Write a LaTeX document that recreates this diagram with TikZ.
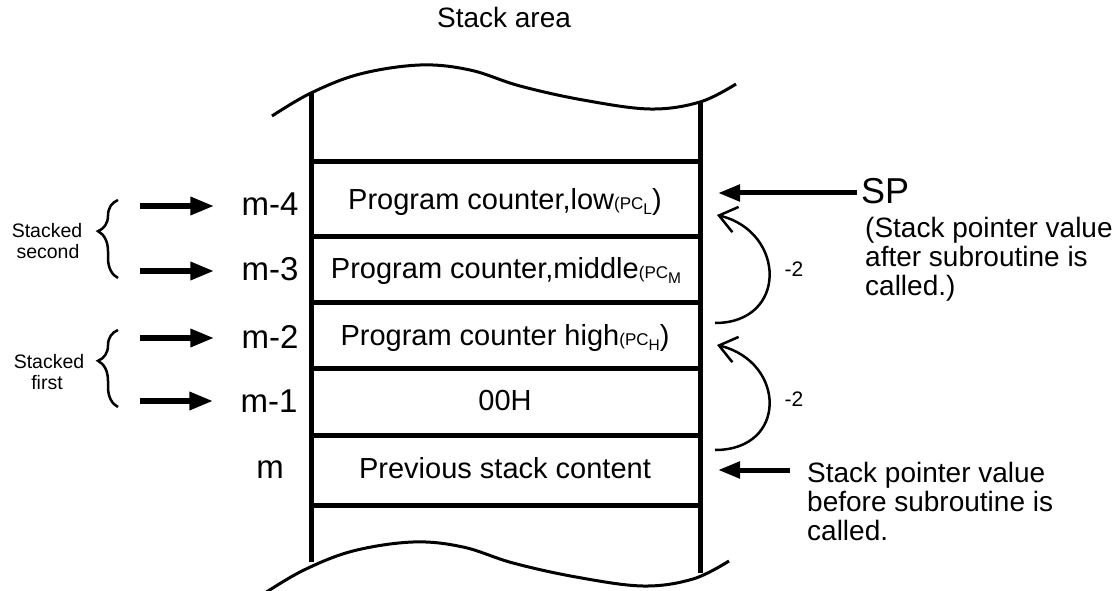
\documentclass[tikz,border=0pt]{standalone}
\usepackage{fontspec}
\setmainfont{Liberation Sans}
\usetikzlibrary{arrows.meta,decorations.pathreplacing}
\newcommand{\smallpc}[1]{{\fontsize{17}{17}\selectfont(PC\raisebox{-0.3em}{\fontsize{15.5}{15.5}\selectfont #1}}}
\begin{document}
\begin{tikzpicture}[x=1pt,y=-1pt,
  wall/.style={line width=5pt},
  wave/.style={line width=3pt},
  rowtxt/.style={anchor=base,inner sep=0pt,font=\fontsize{29}{29}\selectfont},
  mlab/.style={anchor=base,inner sep=0pt,font=\fontsize{33}{33}\selectfont},
  side/.style={anchor=base west,inner sep=0pt,font=\fontsize{28}{28}\selectfont},
  small/.style={anchor=base,inner sep=0pt,font=\fontsize{19.5}{19.5}\selectfont},
  bigarrow/.style={line width=6.5pt,-{Triangle[length=24pt,width=17pt]}},
  ptrarrow/.style={line width=5pt,-{Triangle[length=22pt,width=16pt]}},
  decarrow/.style={line width=2.5pt,-{Straight Barb[length=17pt,width=26pt]}},
  bracestyle/.style={line width=2.5pt,decorate,decoration={brace,amplitude=20pt,aspect=0.6}},
]
\useasboundingbox (0,0) rectangle (1117,591);

% title
\node[rowtxt,font=\fontsize{28}{28}\selectfont] (title) at (504,28) {Stack area};

% walls
\draw[wall] (311,93) -- (311,562);
\draw[wall] (700,102) -- (700,573);
\foreach \yy in {162,236,302,368,435,505}
  \draw[wall] (311,\yy) -- (700,\yy);

% waves
\draw[wave] plot[smooth,tension=0.6] coordinates {(272,116) (311,93) (360,74) (420,65) (470,70) (520,86) (583,100) (650,109) (700,102) (736,84)};
\draw[wave,shift={(-7,477)}] plot[smooth,tension=0.6] coordinates {(272,116) (311,93) (360,74) (420,65) (470,70) (520,86) (583,100) (650,109) (700,102) (736,84)};

% row contents
\node[rowtxt] (r4) at (505,209) {Program counter,low\smallpc{L})};
\node[rowtxt] (r3) at (506,278) {Program counter,middle\smallpc{M}};
\node[rowtxt] (r2) at (505,345) {Program counter high\smallpc{H})};
\node[rowtxt] (r1) at (505,410) {00H};
\node[rowtxt] (r0) at (505,478) {Previous stack content};

% m labels
\node[mlab] (m4) at (270,215) {m-4};
\node[mlab] (m3) at (270,280) {m-3};
\node[mlab] (m2) at (270,348) {m-2};
\node[mlab] (m1) at (269,412) {m-1};
\node[mlab] (m0) at (270,478) {m};

% left arrows
\coordinate (a4) at (140,206);
\coordinate (a3) at (140,271);
\coordinate (a2) at (140,338);
\coordinate (a1) at (140,401);
\draw[bigarrow,shorten >=27pt] (a4) -- (a4 -| m4.west);
\draw[bigarrow,shorten >=27pt] (a3) -- (a3 -| m3.west);
\draw[bigarrow,shorten >=27pt] (a2) -- (a2 -| m2.west);
\draw[bigarrow,shorten >=27pt] (a1) -- (a1 -| m1.west);

% braces
\coordinate (b2s) at (118,278);
\coordinate (b2e) at (118,200);
\coordinate (b1s) at (118,407);
\coordinate (b1e) at (118,330);
\draw[bracestyle] (b2s) -- (b2e);
\draw[bracestyle] (b1s) -- (b1e);
\node[small] (st2a) at (47,237) {Stacked};
\node[small] (st2b) at (48,258) {second};
\node[small] (st1a) at (49,368) {Stacked};
\node[small] (st1b) at (47,389) {first};

% SP
\coordinate (tipR) at (718,0);
\node[anchor=base west,inner sep=0pt,font=\fontsize{36}{36}\selectfont] (SP) at (861,204) {SP};
\draw[ptrarrow] (SP.west |- 0,193) ++(-4,0) coordinate (spstart) -- (spstart -| tipR);
\node[side] (sp1) at (865,237) {(Stack pointer value};
\node[side] (sp2) at (865,266) {after subroutine is};
\node[side] (sp3) at (865,295) {called.)};

% before
\coordinate (bs) at (790,470);
\draw[ptrarrow] (bs) -- (bs -| tipR);
\node[side] (bf1) at (807,482) {Stack pointer value};
\node[side] (bf2) at (807,511) {before subroutine is};
\node[side] (bf3) at (807,540) {called.};

% -2 arcs
\coordinate (c1s) at (715,323);
\coordinate (c1e) at (717,215);
\coordinate (c2s) at (715,450);
\coordinate (c2e) at (717,345);
\draw[decarrow] (c1s) .. controls (788,323) and (786,232) .. (c1e);
\draw[decarrow] (c2s) .. controls (788,450) and (786,362) .. (c2e);
\node[small,font=\fontsize{21}{21}\selectfont] (d1) at (794,276) {-2};
\node[small,font=\fontsize{21}{21}\selectfont] (d2) at (794,406) {-2};
\end{tikzpicture}
\end{document}
